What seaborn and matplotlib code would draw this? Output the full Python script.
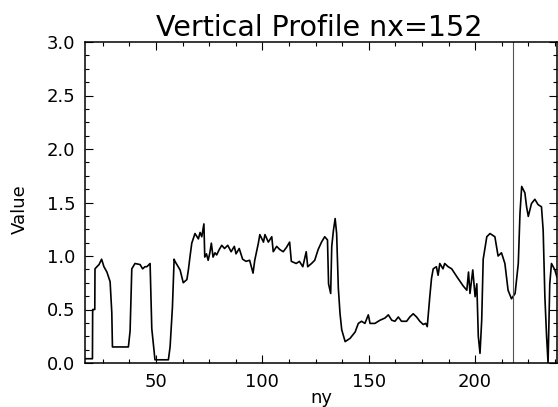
import numpy as np
import pandas as pd
import matplotlib
matplotlib.use("Agg")
import matplotlib.pyplot as plt
from matplotlib.ticker import MultipleLocator, FormatStrFormatter
import seaborn as sns

# ---------------- data ----------------
title = "Vertical Profile nx=152"
x_label = "ny"
y_label = "Value"

ny = [16.7, 20.1, 20.2, 21.2, 21.3, 22.2, 23.2, 24.4, 25.5, 26.9, 28.4, 29.2, 29.5,
      37.0, 37.8, 38.6, 40.1, 42.5, 43.7, 44.8, 45.7, 47.2, 48.0, 49.5,
      55.8, 56.6, 57.7, 58.5, 58.9, 61.3, 62.8, 64.5, 65.2, 66.0, 66.8, 68.3, 69.9,
      70.7, 71.5, 72.5, 72.9, 73.7, 74.5, 75.3, 76.0, 76.8, 77.7, 78.5, 79.7, 80.9,
      82.2, 83.7, 85.3, 86.8, 87.6, 89.1, 90.7, 92.3, 94.0, 95.6, 96.4, 98.1, 98.8,
      100.5, 101.2, 102.8, 104.4, 105.1, 106.7, 108.2, 109.8, 111.3, 112.8, 113.6,
      115.9, 117.4, 119.0, 120.6, 121.3, 123.1, 124.6, 126.2, 127.8, 129.3, 130.6,
      131.1, 132.1, 132.6, 133.4, 134.2, 134.9, 135.7,
      136.5, 137.3, 138.9, 141.2, 143.6, 145.1, 146.6, 148.2, 149.8, 150.6, 152.9,
      155.3, 157.6, 159.2, 160.8, 162.3, 163.9, 165.4, 167.8, 169.3, 170.9, 172.5,
      174.0, 175.6, 176.8, 177.5, 178.7, 179.5, 180.3, 181.8, 182.6, 183.4, 184.9,
      185.7, 187.3, 189.0, 191.3, 194.4, 196.1, 196.9,
      197.6, 198.9, 200.0, 200.8, 201.5, 202.3, 203.1, 203.8, 205.5, 207.0, 209.3,
      210.8, 212.4, 214.0, 215.5, 217.1, 218.8, 220.3, 221.1, 221.9, 223.4, 224.2,
      225.0, 226.5, 228.1, 229.6, 231.2, 232.0, 232.8, 233.6, 234.3, 235.1, 235.9,
      237.5, 238.5]

value = [0.04, 0.04, 0.50, 0.50, 0.88, 0.90, 0.92, 0.97, 0.90, 0.85, 0.76, 0.47, 0.15,
         0.15, 0.30, 0.88, 0.93, 0.92, 0.88, 0.90, 0.90, 0.93, 0.32, 0.03,
         0.03, 0.15, 0.52, 0.97, 0.95, 0.87, 0.75, 0.78, 0.87, 1.00, 1.12, 1.21, 1.16,
         1.22, 1.18, 1.30, 0.99, 1.02, 0.96, 1.03, 1.12, 0.99, 1.03, 1.01, 1.06, 1.10,
         1.07, 1.10, 1.04, 1.09, 1.02, 1.07, 0.97, 0.95, 0.96, 0.84, 0.96, 1.12, 1.20,
         1.13, 1.20, 1.13, 1.18, 1.04, 1.09, 1.06, 1.04, 1.08, 1.13, 0.95,
         0.93, 0.95, 0.90, 1.04, 0.90, 0.93, 0.96, 1.06, 1.13, 1.18, 1.15,
         0.74, 0.65, 1.09, 1.24, 1.35, 1.21, 0.70,
         0.46, 0.31, 0.20, 0.23, 0.29, 0.37, 0.39, 0.37, 0.45, 0.37, 0.37,
         0.40, 0.42, 0.45, 0.40, 0.39, 0.43, 0.39, 0.39, 0.43, 0.46, 0.43,
         0.39, 0.36, 0.37, 0.34, 0.62, 0.79, 0.88, 0.90, 0.82, 0.93, 0.88,
         0.93, 0.90, 0.88, 0.81, 0.72, 0.68, 0.85,
         0.65, 0.87, 0.62, 0.74, 0.25, 0.09, 0.40, 0.97, 1.18, 1.21, 1.18,
         1.00, 1.03, 0.93, 0.68, 0.60, 0.65, 0.93, 1.40, 1.65, 1.59, 1.46,
         1.37, 1.49, 1.53, 1.48, 1.46, 1.24, 0.62, 0.25, 0.00, 0.74, 0.93,
         0.87, 0.80]

marker_ny = 218
x_limits = (16.6, 238.5)
y_limits = (0.0, 3.0)
x_ticks = [50, 100, 150, 200]
y_ticks = [0.0, 0.5, 1.0, 1.5, 2.0, 2.5, 3.0]

# ---------------- style ----------------
sns.set_style("ticks")
plt.rcParams['font.family'] = ['DejaVu Sans']
plt.rcParams.update({"text.color": "black", "axes.labelcolor": "black",
                     "xtick.color": "black", "ytick.color": "black"})

W, H = 558, 407
fig = plt.figure(figsize=(W / 100, H / 100), dpi=100)
ax = fig.add_axes([85 / W, (H - 363) / H, 472 / W, 321 / H])

df = pd.DataFrame({"ny": ny, "Value": value})
sns.lineplot(data=df, x="ny", y="Value", ax=ax, color="black", lw=1.2,
             estimator=None, sort=False)
ax.axvline(marker_ny, color="#555555", lw=0.8)

ax.set_xlim(*x_limits)
ax.set_ylim(*y_limits)
ax.set_xticks(x_ticks)
ax.set_yticks(y_ticks)
ax.xaxis.set_minor_locator(MultipleLocator(12.5))
ax.yaxis.set_minor_locator(MultipleLocator(0.125))
ax.yaxis.set_major_formatter(FormatStrFormatter("%.1f"))

for s in ax.spines.values():
    s.set_visible(True)
    s.set_linewidth(1.1)
    s.set_color("black")

ax.tick_params(which="both", direction="in", top=True, right=True,
               colors="black", width=0.8)
ax.tick_params(which="major", length=6, labelsize=13, pad=7)
ax.tick_params(which="minor", length=3)

ax.set_xlabel(x_label, fontsize=13)
ax.set_ylabel(y_label, fontsize=13)
ax.xaxis.set_label_coords(0.5, -0.08)
ax.yaxis.set_label_coords(-0.12, 0.48)

fig.text(319.5 / W, 1 - 35.6 / H, title, ha="center", va="baseline",
         fontsize=20.5, color="black")

fig.savefig("out.png", dpi=100)
